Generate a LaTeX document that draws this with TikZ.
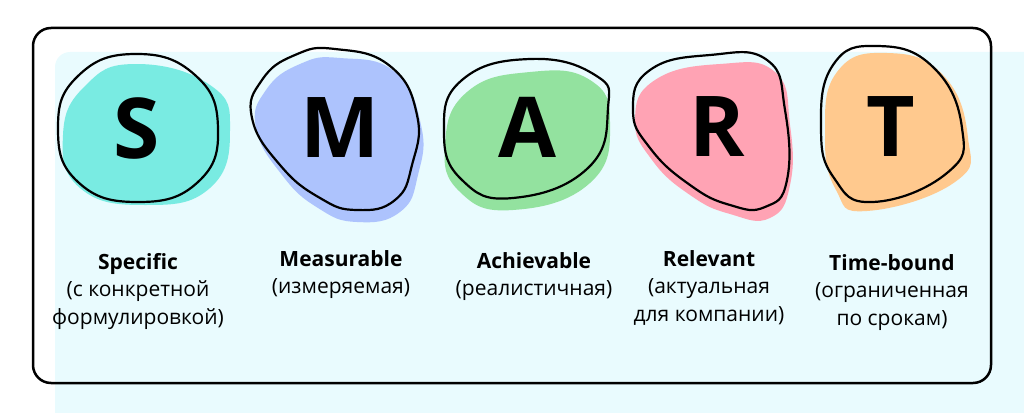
\documentclass[tikz,border=0pt]{standalone}
\usepackage{fontspec}
\setmainfont{Open Sans}
\usetikzlibrary{positioning}
\definecolor{bgcyan}{HTML}{E9FBFE}
\definecolor{sfill}{HTML}{79EBE2}
\definecolor{mfill}{HTML}{ADC3FD}
\definecolor{afill}{HTML}{93E29F}
\definecolor{rfill}{HTML}{FFA3B4}
\definecolor{tfill}{HTML}{FFC98E}

\begin{document}
\begin{tikzpicture}[x=1pt, y=-1pt,
    letter/.style={inner sep=0pt, font=\fontsize{84}{84}\selectfont\bfseries},
    caption/.style={inner sep=0pt, anchor=north, align=center, font=\fontsize{21}{27.5}\selectfont},
    blob/.style={line width=2.2pt, line join=round}]
    \useasboundingbox (0,0) rectangle (1024,412);

    % Background and frame
    \fill[bgcyan, rounded corners=15] (55,52) rectangle (1060,440);
    \draw[line width=2.5pt, rounded corners=18] (33,28) rectangle (991,383);

    % S
    \fill[sfill] plot[smooth cycle, tension=0.8] coordinates {(63,135) (85,86) (135,64) (210,85) (230,130) (210,188) (145,205) (80,188)};
    \draw[blob] plot[smooth cycle, tension=0.8] coordinates {(58,128) (78,76) (135,54) (195,75) (218,128) (198,182) (138,202) (78,182)};
    \node[letter] (S) at (137,128) {S};

    % M
    \fill[mfill] plot[smooth cycle, tension=0.8] coordinates {(256,128) (266,90) (300,64) (340,58) (395,72) (421,125) (418,175) (400,212) (357,222) (318,208) (282,175)};
    \draw[blob] plot[smooth cycle, tension=0.8] coordinates {(252,118) (262,80) (295,55) (335,49) (390,66) (417,115) (412,165) (395,200) (357,210) (320,198) (280,165)};
    \node[letter] (M) at (340,128) {M};

    % A
    \fill[afill] plot[smooth cycle, tension=0.8] coordinates {(445,145) (467,92) (530,72) (590,80) (610,123) (590,183) (513,210) (460,192)};
    \draw[blob] plot[smooth cycle, tension=0.8] coordinates {(444,132) (462,80) (530,59) (595,75) (608,108) (588,168) (513,198) (462,180)};
    \node[letter] (A) at (527,127) {A};

    % R
    \fill[rfill] plot[smooth cycle, tension=0.8] coordinates {(635,120) (655,80) (720,64) (775,72) (790,125) (790,185) (770,218) (730,214) (690,195) (652,160)};
    \draw[blob] plot[smooth cycle, tension=0.8] coordinates {(633,110) (650,70) (710,55) (767,60) (785,110) (787,180) (765,207) (730,205) (690,185) (650,148)};
    \node[letter] (R) at (717,127) {R};

    % T
    \fill[tfill] plot[smooth cycle, tension=0.8] coordinates {(825,135) (837,72) (887,53) (943,75) (968,138) (955,182) (867,211) (836,190)};
    \draw[blob] plot[smooth cycle, tension=0.8] coordinates {(821,128) (833,65) (877,46) (933,67) (962,128) (947,173) (873,202) (834,178)};
    \node[letter] (T) at (891,127) {T};

    % Captions
    \node[caption] (specific) at (138,253) {\textbf{Specific}\\(с конкретной\\формулировкой)};
    \node[caption] (measurable) at (341,250) {\textbf{Measurable}\\(измеряемая)};
    \node[caption] (achievable) at (534,252) {\textbf{Achievable}\\(реалистичная)};
    \node[caption] (relevant) at (709,250) {\textbf{Relevant}\\(актуальная\\для компании)};
    \node[caption] (timebound) at (892,254) {\textbf{Time-bound}\\(ограниченная\\по срокам)};
\end{tikzpicture}
\end{document}
